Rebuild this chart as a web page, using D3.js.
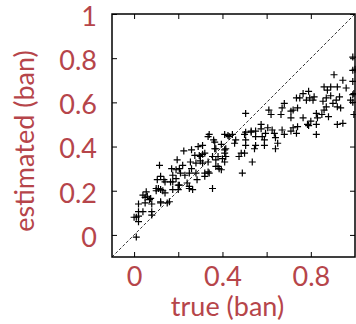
<!DOCTYPE html>
<html>
<head>
<meta charset="utf-8">
<script src="https://cdn.jsdelivr.net/npm/d3@7"></script>
<style>
  body { margin: 0; background: #fff; }
  text { font-family: Lato, "Open Sans", sans-serif; }
</style>
</head>
<body>
<svg id="chart"></svg>
<script>
const W = 356, H = 324
const box = { left: 112, right: 355, top: 14, bottom: 257 }
const red = '#b6454a'

// true vs estimated entropy (ban)
const trueVals = [
  0.01, 0.01, 0.02, 0.00, 0.02, 0.02, 0.04, 0.08, 0.08, 0.02,
  0.05, 0.08, 0.12, 0.16, 0.05, 0.055, 0.075, 0.04, 0.06, 0.07,
  0.10, 0.12, 0.14, 0.11, 0.13, 0.105, 0.14, 0.175, 0.12, 0.175,
  0.205, 0.175, 0.25, 0.265, 0.17, 0.19, 0.205, 0.21, 0.195, 0.22,
  0.115, 0.26, 0.25, 0.28, 0.285, 0.26, 0.295, 0.32, 0.30, 0.28,
  0.335, 0.31, 0.335, 0.365, 0.37, 0.38, 0.37, 0.385, 0.34, 0.32,
  0.355, 0.41, 0.41, 0.415, 0.41, 0.395, 0.43, 0.455, 0.46, 0.475,
  0.485, 0.50, 0.49, 0.50, 0.505, 0.505, 0.535, 0.545, 0.55, 0.55,
  0.53, 0.575, 0.58, 0.59, 0.595, 0.625, 0.635, 0.64, 0.64, 0.65,
  0.67, 0.68, 0.71, 0.72, 0.74, 0.735, 0.785, 0.825, 0.825, 0.92,
  0.505, 0.61, 0.62, 0.67, 0.665, 0.68, 0.71, 0.71, 0.72, 0.735,
  0.74, 0.75, 0.765, 0.765, 0.78, 0.79, 0.795, 0.81, 0.815, 0.825,
  0.83, 0.80, 0.79, 0.86, 0.855, 0.87, 0.86, 0.89, 0.905, 0.915,
  0.92, 0.93, 0.92, 0.935, 0.945, 0.96, 0.99, 0.99, 0.99, 0.99,
  0.995, 0.98, 0.945, 0.995, 0.99, 1.0, 0.31, 0.30, 0.31, 0.32,
  0.335, 0.34, 0.36, 0.365, 0.355, 0.37, 0.38, 0.395, 0.40, 0.41,
  0.415, 0.425, 0.445, 0.505, 0.53, 0.55, 0.575, 0.605, 0.59, 0.135,
  0.165, 0.19, 0.20, 0.20, 0.24, 0.25, 0.10, 0.12, 0.15, 0.23,
  0.255, 0.275, 0.29, 0.225, 0.875, 0.89, 0.90, 0.87, 0.85, 0.88
]
const estVals = [
  -0.01, 0.08, 0.06, 0.08, 0.085, 0.105, 0.105, 0.105, 0.09, 0.14,
  0.145, 0.14, 0.15, 0.15, 0.17, 0.195, 0.165, 0.18, 0.175, 0.16,
  0.21, 0.205, 0.19, 0.21, 0.20, 0.25, 0.24, 0.24, 0.265, 0.27,
  0.225, 0.205, 0.22, 0.205, 0.30, 0.295, 0.30, 0.28, 0.34, 0.315,
  0.315, 0.30, 0.28, 0.28, 0.25, 0.385, 0.36, 0.37, 0.335, 0.325,
  0.33, 0.405, 0.445, 0.42, 0.39, 0.355, 0.31, 0.30, 0.28, 0.265,
  0.21, 0.455, 0.385, 0.355, 0.33, 0.41, 0.445, 0.415, 0.43, 0.355,
  0.37, 0.37, 0.28, 0.455, 0.43, 0.405, 0.33, 0.39, 0.47, 0.405,
  0.465, 0.50, 0.445, 0.405, 0.46, 0.475, 0.46, 0.44, 0.39, 0.415,
  0.475, 0.455, 0.47, 0.485, 0.49, 0.46, 0.50, 0.50, 0.455, 0.50,
  0.55, 0.565, 0.545, 0.575, 0.545, 0.595, 0.56, 0.53, 0.565, 0.62,
  0.575, 0.62, 0.53, 0.64, 0.61, 0.65, 0.62, 0.61, 0.625, 0.55,
  0.53, 0.515, 0.495, 0.67, 0.605, 0.58, 0.565, 0.67, 0.725, 0.61,
  0.67, 0.625, 0.58, 0.575, 0.70, 0.665, 0.745, 0.805, 0.695, 0.635,
  0.545, 0.61, 0.505, 0.64, 0.60, 0.75, 0.365, 0.355, 0.325, 0.28,
  0.285, 0.455, 0.43, 0.39, 0.355, 0.34, 0.31, 0.295, 0.345, 0.37,
  0.39, 0.45, 0.455, 0.465, 0.47, 0.445, 0.48, 0.485, 0.43, 0.25,
  0.24, 0.255, 0.225, 0.205, 0.235, 0.21, 0.20, 0.145, 0.145, 0.27,
  0.33, 0.36, 0.40, 0.38, 0.655, 0.63, 0.595, 0.62, 0.545, 0.535
]
const yTicks = [0, 0.2, 0.4, 0.6, 0.8, 1]
const xTicks = [0, 0.2, 0.4, 0.6, 0.8]
const xLabelled = [0, 0.4, 0.8]
const xTitle = 'true (ban)'
const yTitle = 'estimated (ban)'

const fontSize = '27px'

const svg = d3.select('#chart').attr('width', W).attr('height', H)

const x = d3.scaleLinear().domain([-0.1, 1]).range([box.left, box.right])
const y = d3.scaleLinear().domain([-0.1, 1]).range([box.bottom, box.top])

const fmt = (d) => String(+d.toFixed(1))

function styleAxis(g, withText) {
  g.select('.domain').remove()
  g.selectAll('.tick line').attr('stroke', '#000').attr('stroke-width', 1)
  if (withText) {
    g.selectAll('.tick text').attr('fill', red).style('font-size', fontSize)
  } else {
    g.selectAll('.tick text').remove()
  }
}

// left axis with labels
svg.append('g')
  .attr('transform', `translate(${box.left},0)`)
  .call(d3.axisLeft(y).tickValues(yTicks).tickFormat(fmt).tickSizeInner(-5).tickSizeOuter(0).tickPadding(15))
  .call((g) => styleAxis(g, true))
  .call((g) => g.selectAll('.tick text').attr('dy', '0.42em'))

// right axis, ticks only
svg.append('g')
  .attr('transform', `translate(${box.right},0)`)
  .call(d3.axisRight(y).tickValues(yTicks).tickSizeInner(-5).tickSizeOuter(0))
  .call((g) => styleAxis(g, false))

// bottom axis
svg.append('g')
  .attr('transform', `translate(0,${box.bottom})`)
  .call(d3.axisBottom(x).tickValues(xTicks)
    .tickFormat((d) => xLabelled.includes(d) ? fmt(d) : '')
    .tickSizeInner(-5).tickSizeOuter(0).tickPadding(10))
  .call((g) => styleAxis(g, true))

// top axis, ticks only
svg.append('g')
  .attr('transform', `translate(0,${box.top})`)
  .call(d3.axisTop(x).tickValues(xTicks).tickSizeInner(-5).tickSizeOuter(0))
  .call((g) => styleAxis(g, false))

// y = x reference
svg.append('line')
  .attr('x1', x(-0.1)).attr('y1', y(-0.1))
  .attr('x2', x(1)).attr('y2', y(1))
  .attr('stroke', '#000')
  .attr('stroke-width', 0.8)
  .attr('stroke-dasharray', '3,2')

// points as '+'
const pts = trueVals.map((t, i) => ({ t, e: estVals[i] }))
const arm = 3.5
svg.append('g')
  .selectAll('path')
  .data(pts)
  .enter().append('path')
    .attr('d', (d) => {
      const cx = x(d.t), cy = y(d.e)
      return `M${cx - arm},${cy}H${cx + arm}M${cx},${cy - arm}V${cy + arm}`
    })
    .attr('stroke', '#000')
    .attr('stroke-width', 1.2)
    .attr('fill', 'none')

// frame
svg.append('rect')
  .attr('x', box.left).attr('y', box.top)
  .attr('width', box.right - box.left).attr('height', box.bottom - box.top)
  .attr('fill', 'none')
  .attr('stroke', '#000')
  .attr('stroke-width', 1.5)

// titles
svg.append('text')
  .attr('x', 227.5)
  .attr('y', 316)
  .attr('text-anchor', 'middle')
  .attr('fill', red)
  .style('font-size', fontSize)
  .text(xTitle)

svg.append('text')
  .attr('transform', `translate(34,${141}) rotate(-90)`)
  .attr('text-anchor', 'middle')
  .attr('fill', red)
  .style('font-size', fontSize)
  .text(yTitle)
</script>
</body>
</html>
